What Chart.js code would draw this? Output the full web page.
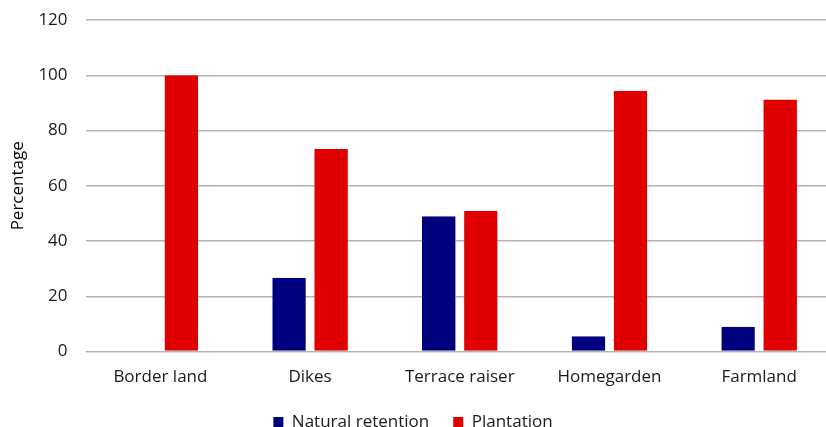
<!DOCTYPE html>
<html>
<head>
<meta charset="utf-8">
<script src="https://cdn.jsdelivr.net/npm/chart.js@4"></script>
<style>
  html, body { margin: 0; padding: 0; background: #fff; }
  #wrap { width: 826px; height: 427px; }
</style>
</head>
<body>
<div id="wrap"><canvas id="chart"></canvas></div>
<script>
const categories = ["Border land", "Dikes", "Terrace raiser", "Homegarden", "Farmland"];
const naturalRetention = [0, 26.7, 49, 5.6, 9];
const plantation = [100, 73.3, 51, 94.4, 91.2];
const yTicks = [0, 20, 40, 60, 80, 100, 120];

const font = { family: "'Open Sans', sans-serif", size: 17 };
const textColor = '#1a1a1a';

// plot area in the original runs a few px past the right edge,
// and the legend sits closer to the axis labels than Chart.js puts it
const tweakLayout = {
    id: 'tweakLayout',
    afterLayout(chart) {
        const x = chart.scales.x;
        x.right += 8; x.width += 8;
        x.configure();
        const lg = chart.legend;
        const h = lg.height;
        lg.top = chart.chartArea.bottom + 38;
        lg.bottom = lg.top + h;
    }
};

new Chart(document.getElementById("chart"), {
    type: 'bar',
    data: {
        labels: categories,
        datasets: [
            { label: 'Natural retention', data: naturalRetention, backgroundColor: '#00007f',
              borderColor: 'rgba(0,0,0,0)', borderWidth: { left: 0, right: 4.4, top: 0, bottom: 0 } },
            { label: 'Plantation', data: plantation, backgroundColor: '#e00000',
              borderColor: 'rgba(0,0,0,0)', borderWidth: { left: 4.4, right: 0, top: 0, bottom: 0 } }
        ]
    },
    options: {
        responsive: true, maintainAspectRatio: false, animation: false,
        layout: { padding: { top: 0, right: 0, bottom: -26, left: 0 } },
        datasets: { bar: { categoryPercentage: 0.505, barPercentage: 1 } },
        scales: {
            x: {
                grid: { display: false, drawTicks: false },
                border: { display: false },
                ticks: { color: textColor, font: font, padding: 15, maxRotation: 0 }
            },
            y: {
                min: 0, max: 120,
                afterBuildTicks: axis => { axis.ticks = yTicks.map(v => ({ value: v })); },
                afterFit: axis => { axis.paddingTop = 20; },
                grid: { color: '#b3b3b3', lineWidth: 1.5, drawTicks: false },
                border: { display: false },
                ticks: { color: textColor, font: font, padding: 18 },
                title: { display: true, text: 'Percentage', color: '#000', font: font, padding: { top: 8, bottom: -8 } }
            }
        },
        plugins: {
            legend: {
                position: 'bottom',
                labels: { color: textColor, font: font, boxWidth: 10, boxHeight: 10, padding: 24 }
            },
            tooltip: { enabled: false }
        }
    },
    plugins: [tweakLayout]
});
</script>
</body>
</html>
